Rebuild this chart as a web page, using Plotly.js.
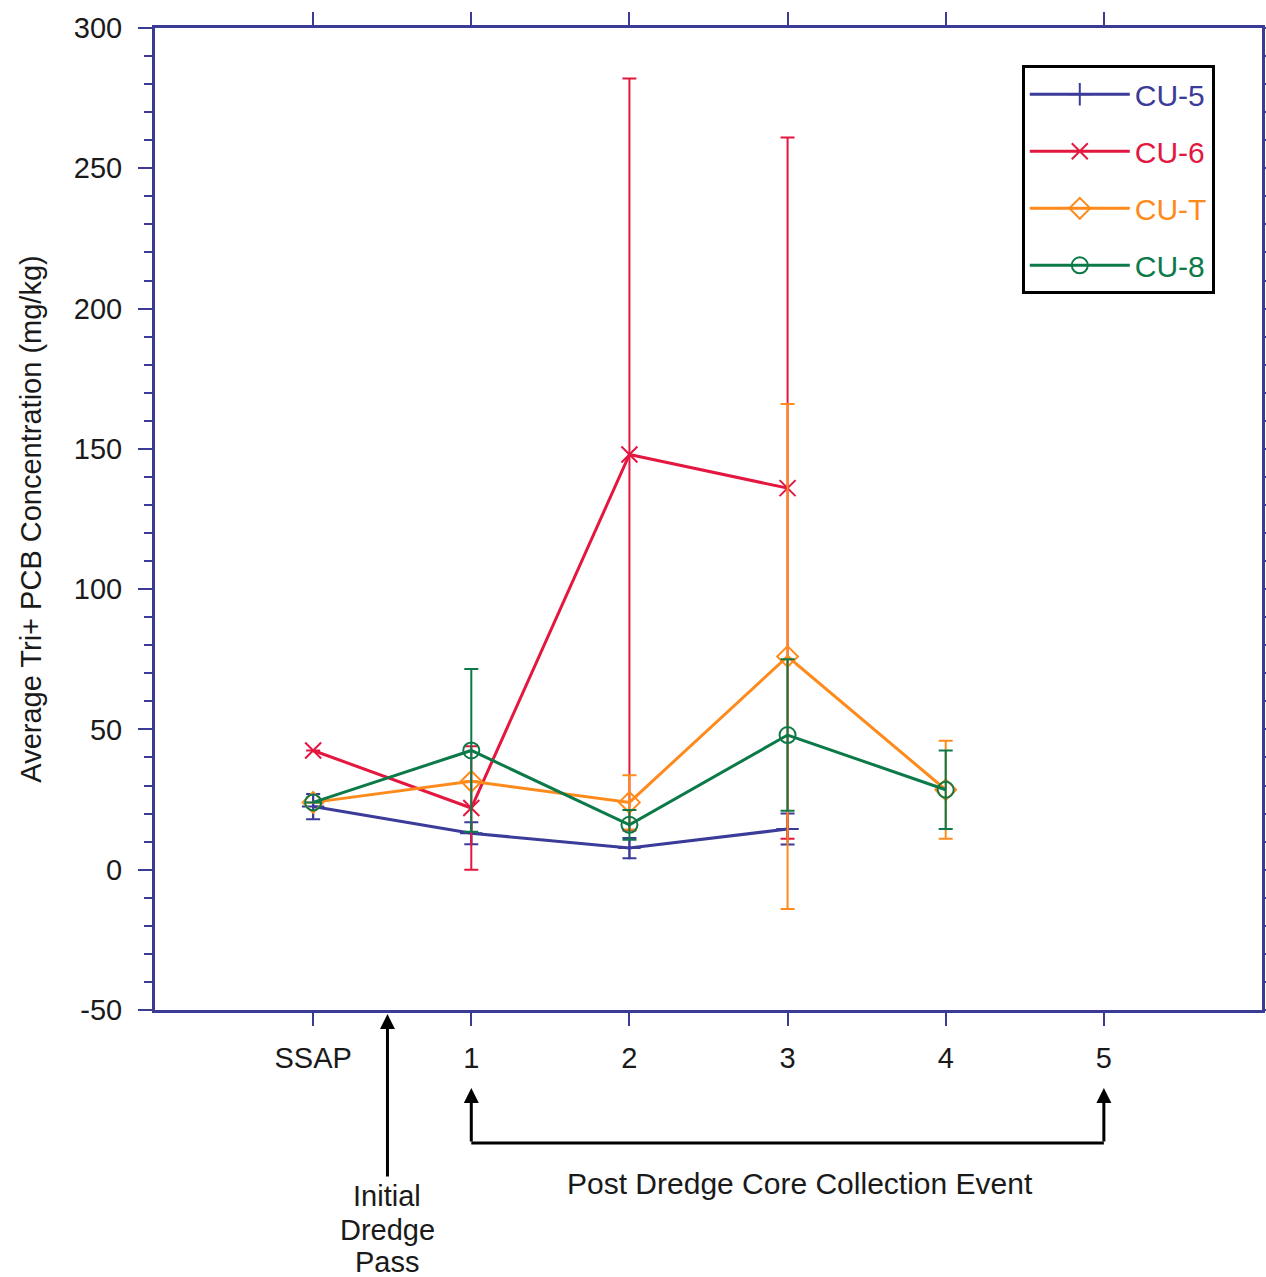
<!DOCTYPE html>
<html>
<head>
<meta charset="utf-8">
<script src="https://cdn.plot.ly/plotly-3.0.1.min.js"></script>
<style>html,body{margin:0;padding:0;background:#fff;}#chart{width:1266px;height:1277px;}</style>
</head>
<body>
<div id="chart"></div>
<script>
// Categories (x positions 0..5, SSAP = 0)
const xPos = [0, 1, 2, 3, 4];
const tickVals = [0, 1, 2, 3, 4, 5];
const tickText = ['SSAP', '1', '2', '3', '4', '5'];
const yTickVals = [-50, 0, 50, 100, 150, 200, 250, 300];
const yTickText = ['-50', '0', '50', '100', '150', '200', '250', '300'];

// Series values (mg/kg) and error bar half-widths
const cu5 = [22.5, 13, 7.7, 14.5, null];
const cu5Err = [4.5, 3.9, 3.6, 5.5, null];
const cu6 = [42.5, 22, 148, 136, null];
const cu6Err = [null, 22, 134, 125, null];
const cuT = [24, 31.5, 24, 76, 28.5];
const cuTErr = [null, null, 9.7, 90, 17.5];
const cu8 = [24, 42.5, 16, 48, 28.5];
const cu8Err = [null, 29, 5.3, 27, 14];

const seriesNames = ['CU-5', 'CU-6', 'CU-T', 'CU-8'];
const colors = ['#3b3b9a', '#e3173f', '#ff8a1c', '#0c7a48'];
const symbols = ['cross-thin', 'x-thin', 'diamond-open', 'circle-open'];
const values = [cu5, cu6, cuT, cu8];
const errs = [cu5Err, cu6Err, cuTErr, cu8Err];

const FONT = 'Liberation Sans, Arial, sans-serif';
const AX = '#3b3b96';
const TXT = '#1a1a1a';

const traces = seriesNames.map((n, i) => ({
  type: 'scatter',
  mode: 'lines+markers',
  x: xPos,
  y: values[i],
  name: '<span style="color:' + colors[i] + '">' + n + '</span>',
  legendgroup: 'g' + i,
  connectgaps: false,
  line: {color: colors[i], width: 3},
  marker: {symbol: symbols[i], size: 16, color: colors[i], line: {color: colors[i], width: 2}},
  error_y: {type: 'data', array: errs[i], symmetric: true, color: colors[i], thickness: 2, width: 7, visible: true}
}));

const yPaper = p => (1010 - p) / 982;
const labelFont = {family: FONT, size: 29, color: TXT};

const layout = {
  width: 1266, height: 1277,
  margin: {l: 155, r: 4, t: 28, b: 267},
  paper_bgcolor: '#ffffff', plot_bgcolor: '#ffffff',
  font: {family: FONT, size: 29, color: TXT},
  showlegend: true,
  legend: {
    x: 0.783, y: 0.962, xanchor: 'left', yanchor: 'top',
    bgcolor: '#ffffff', bordercolor: '#000000', borderwidth: 3,
    font: {family: FONT, size: 30},
    tracegroupgap: 15, itemwidth: 100
  },
  xaxis: {
    range: [-1, 6], tickvals: tickVals, ticktext: tickText,
    showgrid: false, zeroline: false,
    showline: true, linecolor: AX, linewidth: 3, mirror: 'ticks',
    ticks: 'outside', ticklen: 13, tickwidth: 2, tickcolor: AX,
    ticklabelstandoff: 7,
    tickfont: {family: FONT, size: 29, color: TXT}
  },
  yaxis: {
    range: [-50, 300], tickvals: yTickVals, ticktext: yTickText,
    showgrid: false, zeroline: false,
    showline: true, linecolor: AX, linewidth: 3, mirror: 'ticks',
    ticks: 'outside', ticklen: 14, tickwidth: 2, tickcolor: AX,
    minor: {dtick: 10, ticks: 'outside', ticklen: 8, tickwidth: 2, tickcolor: AX, showgrid: false},
    ticklabelstandoff: 10,
    tickfont: {family: FONT, size: 29, color: TXT},
    title: {text: 'Average Tri+ PCB Concentration (mg/kg)', font: {family: FONT, size: 29, color: TXT}, standoff: 24}
  },
  shapes: [
    {type: 'line', xref: 'x', yref: 'paper', x0: 1, x1: 5, y0: yPaper(1143), y1: yPaper(1143), line: {color: '#000', width: 3}}
  ],
  annotations: [
    {xref: 'x', yref: 'paper', x: 0.47, y: yPaper(1014), ax: 0, ay: 164, text: '', showarrow: true,
     arrowhead: 2, arrowsize: 1, arrowwidth: 3, arrowcolor: '#000'},
    {xref: 'x', yref: 'paper', x: 0.47, y: yPaper(1196), yanchor: 'middle', text: 'Initial', showarrow: false, font: labelFont},
    {xref: 'x', yref: 'paper', x: 0.47, y: yPaper(1230), yanchor: 'middle', text: 'Dredge', showarrow: false, font: labelFont},
    {xref: 'x', yref: 'paper', x: 0.47, y: yPaper(1262), yanchor: 'middle', text: 'Pass', showarrow: false, font: labelFont},
    {xref: 'x', yref: 'paper', x: 1, y: yPaper(1088), ax: 0, ay: 55, text: '', showarrow: true,
     arrowhead: 2, arrowsize: 1, arrowwidth: 3, arrowcolor: '#000'},
    {xref: 'x', yref: 'paper', x: 5, y: yPaper(1088), ax: 0, ay: 55, text: '', showarrow: true,
     arrowhead: 2, arrowsize: 1, arrowwidth: 3, arrowcolor: '#000'},
    {xref: 'x', yref: 'paper', x: 3.08, y: yPaper(1183), yanchor: 'middle', text: 'Post Dredge Core Collection Event', showarrow: false,
     font: {family: FONT, size: 30, color: TXT}}
  ]
};

Plotly.newPlot('chart', traces, layout, {displayModeBar: false, staticPlot: true});
</script>
</body>
</html>
